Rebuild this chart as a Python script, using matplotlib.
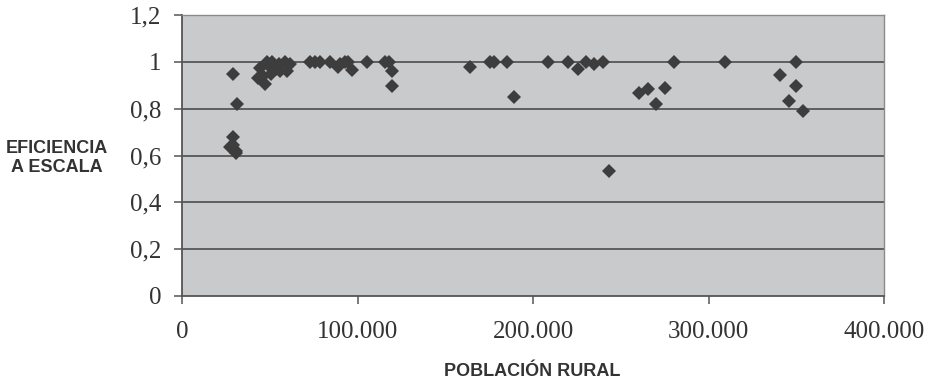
import numpy as np
import matplotlib.pyplot as plt

# población rural de cada municipio y su eficiencia a escala
poblacion = [27400, 28800, 29000, 30500, 31000, 29300, 31200,
             43500, 44500, 46000, 47300, 48300, 49000, 50500, 51500,
             53500, 55500, 56000, 58500, 59700, 61600,
             73000, 75800, 78700, 84400, 89100, 90100, 92900, 94600, 96700,
             105300, 115700, 118200, 119500, 119900,
             164200, 175200, 177900, 185100, 188900,
             208800, 219700, 225400, 230200, 234500, 239600, 243400,
             260500, 265500, 270200, 275000, 280100, 309600,
             340900, 345900, 349900, 349900, 353900]
eficiencia = [0.635, 0.645, 0.68, 0.62, 0.61, 0.95, 0.82,
              0.93, 0.975, 0.94, 0.905, 1.0, 0.985, 0.95, 1.0,
              0.97, 0.99, 0.96, 1.0, 0.962, 0.99,
              1.0, 1.0, 1.0, 1.0, 0.976, 0.99, 1.0, 1.0, 0.965,
              1.0, 1.0, 1.0, 0.962, 0.898,
              0.976, 1.0, 1.0, 1.0, 0.848,
              1.0, 1.0, 0.969, 1.0, 0.99, 1.0, 0.535,
              0.869, 0.884, 0.82, 0.89, 1.0, 1.0,
              0.943, 0.834, 1.0, 0.898, 0.789]

yticks = [0, 0.2, 0.4, 0.6, 0.8, 1.0, 1.2]
ytick_labels = ['0', '0,2', '0,4', '0,6', '0,8', '1', '1,2']
xticks = [0, 100000, 200000, 300000, 400000]
xtick_labels = ['0', '100.000', '200.000', '300.000', '400.000']

fig = plt.figure(figsize=(9.25, 3.81), dpi=100)
ax = fig.add_axes([0.1968, 0.2231, 0.7589, 0.7375])
ax.set_facecolor('#c9cacc')

for v in yticks[1:-1]:
    ax.axhline(v, color='#4d4d4d', lw=1.2, zorder=1)

ax.plot(poblacion, eficiencia, linestyle='none', marker='D', markersize=7.5,
        color='#3d3d3d', markeredgewidth=0, zorder=3)

ax.set_xlim(0, 400000)
ax.set_ylim(0, 1.2)
ax.set_xticks(xticks)
ax.set_xticklabels(xtick_labels)
ax.set_yticks(yticks)
ax.set_yticklabels(ytick_labels)

for s in ['left', 'bottom']:
    ax.spines[s].set_color('#555555')
    ax.spines[s].set_linewidth(1.3)
for s in ['top', 'right']:
    ax.spines[s].set_color('#8a8a8a')
    ax.spines[s].set_linewidth(1.0)

ax.tick_params(axis='both', direction='out', length=6, width=1.1,
               color='#555555', labelcolor='#333333')
ax.tick_params(axis='y', pad=9)
ax.tick_params(axis='x', pad=12)
for lab in ax.get_xticklabels() + ax.get_yticklabels():
    lab.set_fontfamily('Liberation Serif')
    lab.set_fontsize(18)

fig.text(57 / 925, 1 - 158 / 381, 'EFICIENCIA\nA ESCALA', ha='center',
         va='center', multialignment='center', fontsize=13,
         fontweight='bold', family='Liberation Sans', color='#333333',
         linespacing=1.1)
fig.text(532 / 925, 1 - 371 / 381, 'POBLACIÓN RURAL', ha='center',
         va='center', fontsize=13, fontweight='bold',
         family='Liberation Sans', color='#333333')

fig.savefig('out.png', dpi=100)
